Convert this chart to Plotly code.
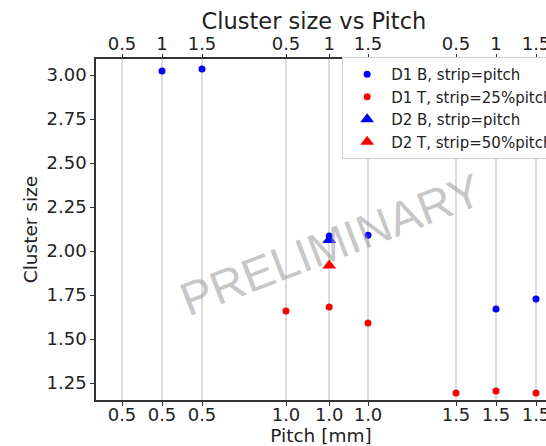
import plotly.graph_objects as go

# x slot positions (three groups of three pitch values)
slot_pos = [0.5, 1.0, 1.5, 2.55, 3.09, 3.575, 4.675, 5.175, 5.675]
top_labels = ["0.5", "1", "1.5", "0.5", "1", "1.5", "0.5", "1", "1.5"]
bottom_labels = ["0.5", "0.5", "0.5", "1.0", "1.0", "1.0", "1.5", "1.5", "1.5"]

# series: slot index and cluster size
d1b_slots = [1, 2, 4, 5, 7, 8]
d1b_vals = [3.023, 3.034, 2.085, 2.09, 1.670, 1.727]
d1t_slots = [3, 4, 5, 6, 7, 8]
d1t_vals = [1.659, 1.682, 1.591, 1.193, 1.205, 1.193]
d2b_slots = [4]
d2b_vals = [2.063]
d2t_slots = [4]
d2t_vals = [1.918]

yticks = [1.25, 1.50, 1.75, 2.00, 2.25, 2.50, 2.75, 3.00]

FONT = "DejaVu Sans"

fig = go.Figure()
series = [
    ("D1 B, strip=pitch", d1b_slots, d1b_vals, "blue", "circle", 7),
    ("D1 T, strip=25%pitch", d1t_slots, d1t_vals, "red", "circle", 7),
    ("D2 B, strip=pitch", d2b_slots, d2b_vals, "blue", "triangle-up", 12),
    ("D2 T, strip=50%pitch", d2t_slots, d2t_vals, "red", "triangle-up", 12),
]
for name, slots, vals, col, sym, sz in series:
    fig.add_trace(go.Scatter(
        x=[slot_pos[i] for i in slots], y=vals, mode="markers", name=name,
        marker=dict(color=col, symbol=sym, size=sz, line=dict(width=0)),
    ))

xr = [0.175, 5.8]
fig.update_layout(
    width=546, height=446,
    margin=dict(l=96, r=0, t=59, b=46, autoexpand=False),
    paper_bgcolor="white", plot_bgcolor="white",
    font=dict(family=FONT, size=18, color="#222"),
    title=dict(text="Cluster size vs Pitch", x=0.575, xanchor="center",
               xref="container", y=1 - 21 / 446, yanchor="middle",
               yref="container", font=dict(size=22.5, color="#222")),
    xaxis=dict(range=xr, tickmode="array", tickvals=slot_pos, ticktext=bottom_labels,
               showgrid=True, gridcolor="#dcdcdc", gridwidth=1.5,
               showline=True, linecolor="#333", linewidth=1.5,
               ticks="outside", ticklen=4, tickcolor="#333", tickwidth=1,
               ticklabeloverflow="allow", ticklabelstandoff=-6,
               zeroline=False, automargin=False,
               title=dict(text="Pitch [mm]", font=dict(size=18.5), standoff=0)),
    xaxis2=dict(range=xr, overlaying="x", side="top", tickmode="array",
                tickvals=slot_pos, ticktext=top_labels, showgrid=False,
                showline=True, linecolor="#333", linewidth=1.5,
                ticks="outside", ticklen=3, tickcolor="#333", tickwidth=1,
                ticklabeloverflow="allow", ticklabelstandoff=-3,
                zeroline=False, automargin=False),
    yaxis=dict(range=[1.1534, 3.091], tickmode="array", tickvals=yticks,
               ticktext=[f"{v:.2f}" for v in yticks], showgrid=False,
               showline=True, linecolor="#333", linewidth=1.5,
               ticks="outside", ticklen=4, tickcolor="#333", tickwidth=1,
               zeroline=False, automargin=True,
               title=dict(text="Cluster size", font=dict(size=18.5), standoff=4)),
    legend=dict(x=0.547, y=1.006, xanchor="left", yanchor="top",
                bgcolor="white", bordercolor="#d0d0d0", borderwidth=1,
                itemwidth=38,
                font=dict(size=15, color="#222")),
    showlegend=True,
)
fig.add_trace(go.Scatter(x=[], y=[], xaxis="x2", showlegend=False, hoverinfo="skip"))

fig.add_annotation(text="PRELIMINARY", x=0.522, y=0.455, xref="paper", yref="paper",
                   showarrow=False, textangle=-21,
                   font=dict(family="Liberation Sans", size=47, color="rgba(150,150,150,0.55)"))

fig.write_html("out.html")
